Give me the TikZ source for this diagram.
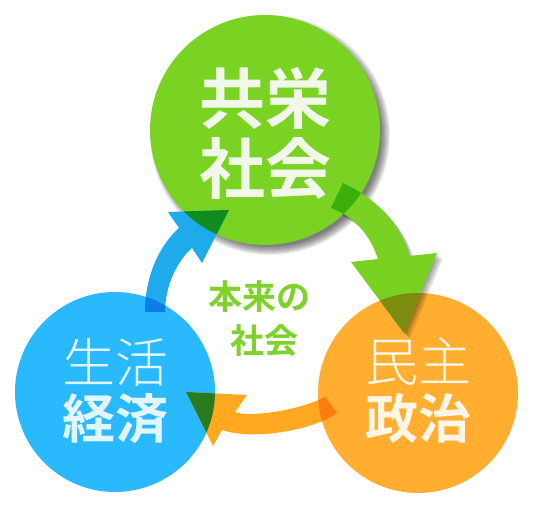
\documentclass[tikz,border=0pt]{standalone}
\usepackage{fontspec}
\newfontfamily\cjk{Noto Sans CJK JP}[BoldFont={* Bold}]
\IfFontExistsTF{Noto Sans CJK JP Light}{\newfontfamily\cjklt{Noto Sans CJK JP Light}}{\newfontfamily\cjklt{Noto Sans CJK JP}}
\definecolor{gcol}{HTML}{7AD322}
\definecolor{ocol}{HTML}{FFAE30}
\definecolor{bcol}{HTML}{29B9FC}
\definecolor{barr}{HTML}{1EAAEB}
\definecolor{oarr}{HTML}{FFA820}
\definecolor{garr}{HTML}{79D221}
\definecolor{gOnG}{HTML}{3DAF0B}
\definecolor{gOnO}{HTML}{7B8D0F}
\definecolor{bOnB}{HTML}{0C7CE8}
\definecolor{bOnG}{HTML}{128B1E}
\definecolor{oOnO}{HTML}{FF7B0D}
\definecolor{oOnB}{HTML}{2A7B1F}
\definecolor{gtxt}{HTML}{F1F8E9}
\definecolor{otxt}{HTML}{FFF6E8}
\definecolor{btxt}{HTML}{E3F6FF}
\definecolor{ctxt}{HTML}{7FD22B}
\def\garrow{(343,183) .. controls (375,198) and (400,222) .. (409,256) -- (437,253) -- (404,333) -- (351,262) -- (378,259) .. controls (370,235) and (355,217) .. (331,208) -- cycle}
\def\barrow{(145,312) .. controls (145,275) and (160,245) .. (179,228) -- (168,212) -- (229,210) -- (202,263) -- (192,248) .. controls (178,260) and (165,285) .. (165,312) -- cycle}
\def\oarrow{(186,392) -- (247,395) -- (235,412) .. controls (250,418) and (300,410) .. (325,397) -- (337,413) .. controls (310,432) and (250,440) .. (222,430) -- (213,446) -- cycle}
\begin{document}
\begin{tikzpicture}[x=1pt,y=-1pt,
  disc/.style={circle,inner sep=0pt,minimum size=#1,draw=none},
  bigtxt/.style={font=\cjk\bfseries\fontsize{66}{70}\selectfont,text=gtxt,inner sep=0pt},
  midbold/.style={font=\cjk\bfseries\fontsize{53}{56}\selectfont,inner sep=0pt},
  midlight/.style={font=\cjklt\fontsize{53}{56}\selectfont,inner sep=0pt},
  ctr/.style={font=\cjk\bfseries\fontsize{34}{36}\selectfont,text=ctxt,inner sep=0pt}]
\useasboundingbox (0,0) rectangle (536,510);
\fill[white] (0,0) rectangle (536,510);
% shadow of green circle
\foreach \r in {111,112,...,120}{\fill[black,opacity=0.065] (270,135) circle[radius=\r pt];}
% blue and orange circles
\node[disc=200pt,fill=bcol] (bc) at (115,392) {};
\node[disc=200pt,fill=ocol] (oc) at (418,393) {};
% shadow of green arrow
\foreach \d in {1,2,...,6}{\fill[black,opacity=0.07,shift={(\d,\d)}] \garrow;}
% green circle
\node[disc=230pt,fill=gcol] (gc) at (265,130) {};
% arrows
\fill[garr] \garrow;
\fill[barr] \barrow;
\fill[oarr] \oarrow;
% overlaps
\begin{scope}\clip (gc.center) circle[radius=115pt]; \fill[gOnG] \garrow; \fill[bOnG] \barrow;\end{scope}
\begin{scope}\clip (oc.center) circle[radius=100pt]; \fill[gOnO] \garrow; \fill[oOnO] \oarrow;\end{scope}
\begin{scope}\clip (bc.center) circle[radius=100pt]; \fill[bOnB] \barrow; \fill[oOnB] \oarrow;\end{scope}
% texts
\node[bigtxt] (g1) at (265,98) {共栄};
\node[bigtxt] (g2) at (265,168) {社会};
\node[midlight,text=otxt] (o1) at (418,362) {民主};
\node[midbold,text=otxt] (o2) at (418,418) {政治};
\node[midlight,text=btxt] (b1) at (115,362) {生活};
\node[midbold,text=btxt] (b2) at (115,419) {経済};
\node[ctr] (c1) at (259,297) {本来の};
\node[ctr] (c2) at (264,341) {社会};
\end{tikzpicture}
\end{document}
